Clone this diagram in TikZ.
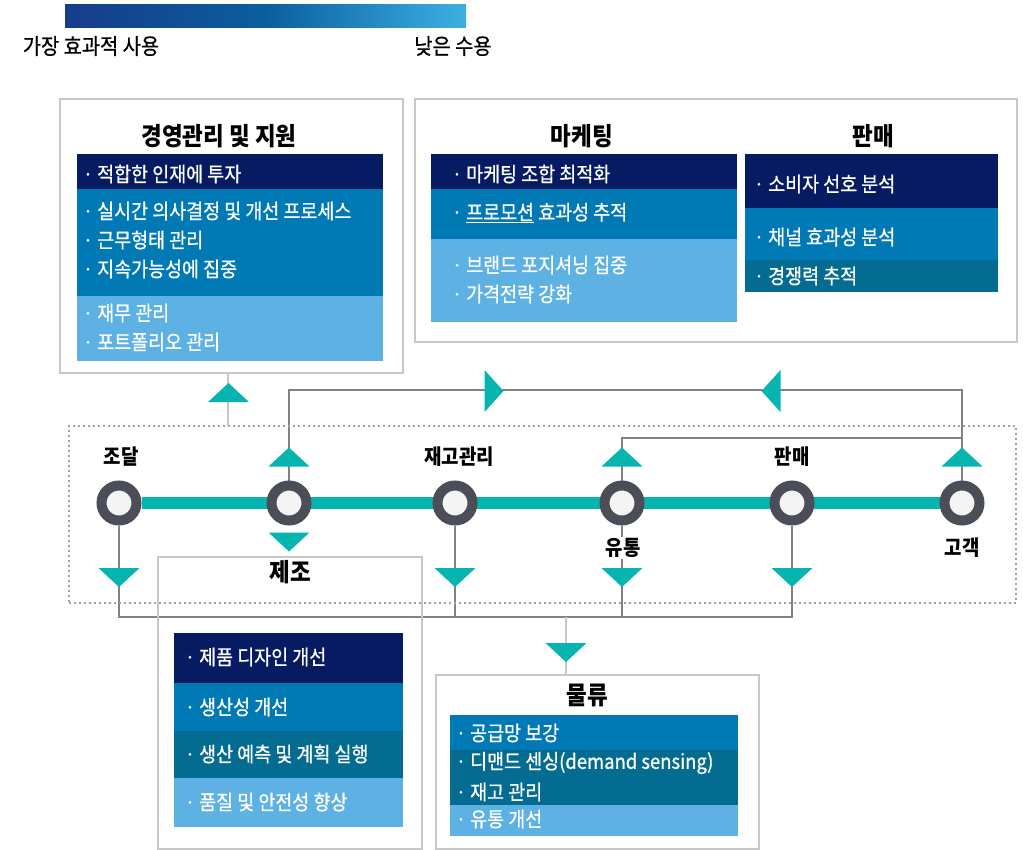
\documentclass[tikz,border=0pt]{standalone}
\usepackage{fontspec}
\setmainfont{Noto Sans CJK KR}[FakeStretch=0.9]
\newfontfamily\bodyfont{Noto Sans CJK KR}[FakeStretch=0.9,FakeBold=0.7]
\usetikzlibrary{backgrounds}
\definecolor{navy}{HTML}{071B62}
\definecolor{midblue}{HTML}{0079B5}
\definecolor{dteal}{HTML}{046C91}
\definecolor{lblue}{HTML}{5DB1E3}
\definecolor{tealc}{HTML}{07B5B0}
\definecolor{ringc}{HTML}{4B4E56}
\definecolor{innerc}{HTML}{F4F4F4}
\definecolor{boxgray}{HTML}{C8C8C8}
\definecolor{conngray}{HTML}{818189}
\definecolor{dotgray}{HTML}{A0A0A0}
\definecolor{grad1}{HTML}{173C8C}
\definecolor{grad2}{HTML}{0A5E9E}
\definecolor{grad3}{HTML}{3CB0E0}
\newcommand\bl{\llap{·\hspace{4pt}}}
\begin{document}
\begin{tikzpicture}[x=1pt,y=-1pt,
  gbox/.style={draw=boxgray,line width=2pt,inner sep=0pt,anchor=north west},
  dotbox/.style={draw=dotgray,line width=2pt,dash pattern=on 2pt off 3pt,inner sep=0pt,anchor=north west},
  station/.style={circle,draw=ringc,line width=10pt,fill=innerc,minimum size=35pt,inner sep=0pt},
  btxt/.style={anchor=west,inner sep=0pt,text=white,font=\bodyfont\fontsize{20.5}{24}\selectfont},
  ttl/.style={inner sep=0pt,font=\bfseries\fontsize{25}{28}\selectfont},
  slbl/.style={inner sep=1pt,font=\bfseries\fontsize{21}{24}\selectfont},
  lgd/.style={inner sep=0pt,font=\bodyfont\fontsize{22}{25}\selectfont},
  conn/.style={draw=conngray,line width=2pt},
  lconn/.style={draw=boxgray,line width=2pt},
  mainline/.style={draw=tealc,line width=12pt},
  triU/.pic={\fill[tealc] (0,-9.5) -- (20.5,9.5) -- (-20.5,9.5) -- cycle;},
  triD/.pic={\fill[tealc] (0,9.5) -- (20.5,-9.5) -- (-20.5,-9.5) -- cycle;},
  triR/.pic={\fill[tealc] (9.5,0) -- (-9.5,21) -- (-9.5,-21) -- cycle;},
  triL/.pic={\fill[tealc] (-9.5,0) -- (9.5,21) -- (9.5,-21) -- cycle;}
]
\useasboundingbox (0,0) rectangle (1023,849);

% legend
\shade[left color=grad1, right color=grad3, middle color=grad2] (65,4) rectangle (466,27);
\node[lgd] (lg1) at (91,46) {가장 효과적 사용};
\node[lgd] (lg2) at (453,46) {낮은 수용};

% outer boxes
\node[gbox,minimum width=343pt,minimum height=274pt] (box1) at (59,98) {};
\node[gbox,minimum width=602pt,minimum height=243pt] (box2) at (414,98) {};
\node[gbox,minimum width=264pt,minimum height=292pt] (mfg) at (157,556) {};
\node[gbox,minimum width=323pt,minimum height=174pt] (logi) at (435,674) {};
\node[dotbox,minimum width=947pt,minimum height=177pt] (dbox) at (68,425) {};

% box1 bands
\fill[navy] (77,154) rectangle (383,189);
\fill[midblue] (77,189) rectangle (383,296);
\fill[lblue] (77,296) rectangle (383,361);
\node[ttl] (t1) at (219,136) {경영관리 및 지원};
\node[btxt] (a1) at (97,174) {\bl 적합한 인재에 투자};
\node[btxt] (a2) at (97,211) {\bl 실시간 의사결정 및 개선 프로세스};
\node[btxt] (a3) at (97,240) {\bl 근무형태 관리};
\node[btxt] (a4) at (97,269) {\bl 지속가능성에 집중};
\node[btxt] (a5) at (97,313) {\bl 재무 관리};
\node[btxt] (a6) at (97,342) {\bl 포트폴리오 관리};

% marketing
\fill[navy] (431,154) rectangle (737,189);
\fill[midblue] (431,189) rectangle (737,239);
\fill[lblue] (431,239) rectangle (737,322);
\node[ttl] (t2) at (582,136) {마케팅};
\node[btxt] (m1) at (466,174) {\bl 마케팅 조합 최적화};
\node[btxt] (m2) at (466,213) {\bl \underline{프로모션} 효과성 추적};
\node[btxt] (m3) at (466,265) {\bl 브랜드 포지셔닝 집중};
\node[btxt] (m4) at (466,294) {\bl 가격전략 강화};

% sales
\fill[navy] (745,154) rectangle (998,208);
\fill[midblue] (745,208) rectangle (998,260);
\fill[dteal] (745,260) rectangle (998,292);
\node[ttl] (t3) at (873,136) {판매};
\node[btxt] (p1) at (768,184) {\bl 소비자 선호 분석};
\node[btxt] (p2) at (768,237) {\bl 채널 효과성 분석};
\node[btxt] (p3) at (768,276) {\bl 경쟁력 추적};

% manufacturing
\fill[navy] (174,633) rectangle (403,683);
\fill[midblue] (174,683) rectangle (403,731);
\fill[dteal] (174,731) rectangle (403,778);
\fill[lblue] (174,778) rectangle (403,827);
\node[ttl] (t4) at (290,572) {제조};
\node[btxt] (f1) at (199,657) {\bl 제품 디자인 개선};
\node[btxt] (f2) at (199,707) {\bl 생산성 개선};
\node[btxt] (f3) at (199,754) {\bl 생산 예측 및 계획 실행};
\node[btxt] (f4) at (199,802) {\bl 품질 및 안전성 향상};

% logistics
\fill[midblue] (450,715) rectangle (738,750);
\fill[dteal] (450,750) rectangle (738,805);
\fill[lblue] (450,805) rectangle (738,836);
\node[ttl] (t5) at (587,695) {물류};
\node[btxt] (l1) at (470,733) {\bl 공급망 보강};
\node[btxt] (l2) at (470,763) {\bl 디맨드 센싱(demand sensing)};
\node[btxt] (l3) at (470,792) {\bl 재고 관리};
\node[btxt] (l4) at (470,819) {\bl 유통 개선};

% stations
\node[station] (s1) at (119,503) {};
\node[station] (s2) at (289,503) {};
\node[station] (s3) at (455,503) {};
\node[station] (s4) at (622,503) {};
\node[station] (s5) at (792,503) {};
\node[station] (s6) at (962,503) {};

\coordinate (r1) at (289,390);
\coordinate (r2) at (962,390);
\coordinate (q1) at (622,438);
\coordinate (q2) at (962,438);
\coordinate (b1) at (119,617);
\coordinate (b5) at (792,617);
\coordinate (bm) at (566,617);

\begin{scope}[on background layer]
\draw[mainline] (s1) -- (s6);
\draw[conn] (s2) -- (r1) -- (r2) -- (s6);
\draw[conn] (s4) -- (q1) -- (q2);
\draw[conn] (s1) -- (b1) -- (b5) -- (s5);
\draw[conn] (s3) -- (s3 |- b1);
\draw[conn] (s4) -- (s4 |- b1);
\draw[lconn] (box1.south -| 228,0) -- (dbox.north -| 228,0);
\draw[lconn] (bm) -- (bm |- logi.north);
\end{scope}

% station labels
\node[slbl] (n1) at (121,457) {조달};
\node[slbl] (n3) at (459,457) {재고관리};
\node[slbl] (n5) at (792,457) {판매};
\node[slbl,fill=white] (n4) at (623,548) {유통};
\node[slbl] (n6) at (962,548) {고객};

% triangles
\pic at (228.5,392.5) {triU};
\pic at (289,457) {triU};
\pic at (622,457) {triU};
\pic at (962,457) {triU};
\pic at (289,542) {triD};
\pic at (119,577.5) {triD};
\pic at (455,577.5) {triD};
\pic at (622,577.5) {triD};
\pic at (792,577.5) {triD};
\pic at (566,652.5) {triD};
\pic at (494,391) {triR};
\pic at (771,391) {triL};
\end{tikzpicture}
\end{document}
